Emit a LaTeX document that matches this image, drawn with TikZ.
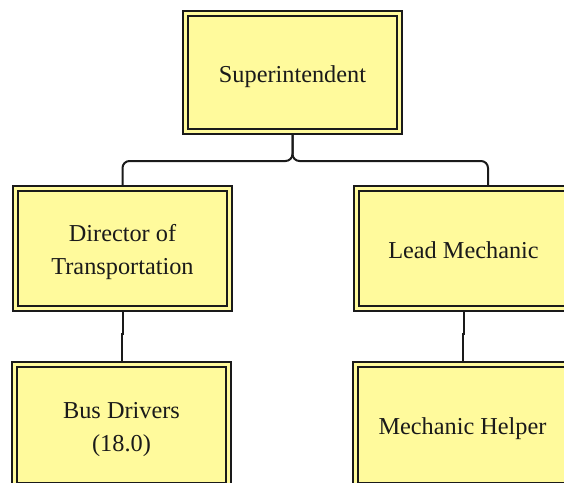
\documentclass[tikz,border=0pt]{standalone}
\usepackage{fontspec}
\setmainfont{Liberation Serif}
\definecolor{boxfill}{HTML}{FFFA9C}
\definecolor{ink}{HTML}{1A1A1A}
\pgfdeclarelayer{background}
\pgfsetlayers{background,main}
\newcommand{\boxtext}[1]{\raisebox{-9.5pt}[0pt][0pt]{\begin{tabular}{@{}c@{}}#1\end{tabular}}}
\tikzset{
  rolebox/.style={draw=ink, line width=2.1pt, double=boxfill, double distance=2.4pt,
    fill=boxfill, inner sep=0pt, minimum width=214pt, minimum height=120pt,
    align=center, text=ink, font=\fontsize{24.3}{33}\selectfont},
  conn/.style={draw=ink, line width=2pt, rounded corners=7pt}
}
\begin{document}
\begin{tikzpicture}[x=1pt,y=-1pt]
\useasboundingbox (0,0) rectangle (564,482);
\node[rolebox, minimum height=118pt] (sup) at (292.5,72.5) {\boxtext{Superintendent}};
\node[rolebox] (dir) at (122.5,248.5) {\boxtext{Director of\\Transportation}};
\node[rolebox] (lead) at (463.5,248.5) {\boxtext{Lead Mechanic}};
\node[rolebox, minimum height=121pt] (bus) at (121.5,425) {\boxtext{Bus Drivers\\(18.0)}};
\node[rolebox, minimum height=121pt] (help) at (462.5,425) {\boxtext{Mechanic Helper}};
\coordinate (j) at (292.5,161);
\coordinate (leadin) at ([xshift=24.5pt]lead.north);
\begin{pgfonlayer}{background}
\draw[conn] (dir.north) |- (j) -- (sup.south);
\draw[conn] (leadin) |- (j) -- (sup.south);
\draw[conn, rounded corners=0pt] (dir.south) -- ++(0,24.5) -| (bus.north);
\draw[conn, rounded corners=0pt] (lead.south) -- ++(0,24.5) -| (help.north);
\end{pgfonlayer}
\end{tikzpicture}
\end{document}
